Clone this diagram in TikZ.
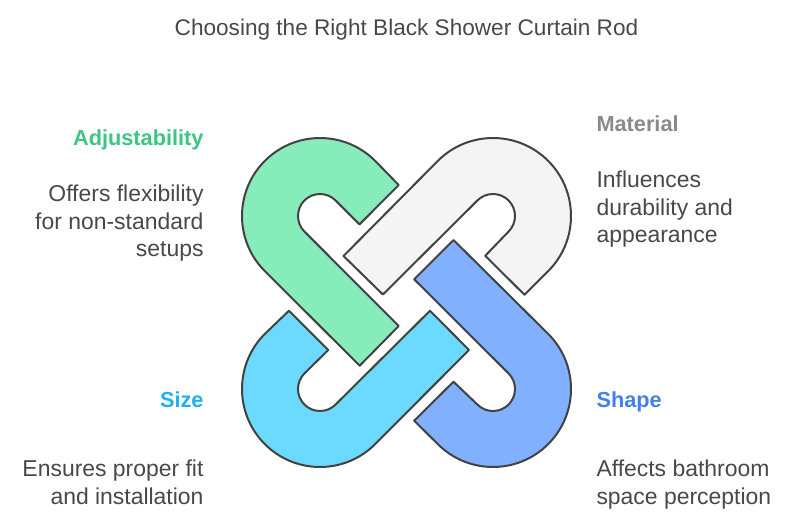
\documentclass[tikz,border=0pt]{standalone}
\usepackage{fontspec}
\setmainfont{Liberation Sans}
\tikzset{every picture/.style={line width=0.75pt}}
\tikzset{
  linkshape/.style={color={rgb, 255:red, 66; green, 66; blue, 66 }, draw opacity=1, line width=1.5pt, line join=round},
  headtext/.style={inner sep=0pt, font=\fontsize{16.3}{20}\selectfont\bfseries},
  bodytext/.style={inner sep=0pt, text={rgb, 255:red, 72; green, 72; blue, 72 }, font=\fontsize{17.2}{20.8}\selectfont}
}
\begin{document}
\begin{tikzpicture}[x=0.75pt,y=0.75pt,yscale=-1,xscale=1]
\useasboundingbox (0,0) rectangle (800,524);

%Shape: Green link
\draw  [linkshape, fill={rgb, 255:red, 134; green, 237; blue, 186 }  ,fill opacity=1 ] (375.15,160.85) .. controls (344.69,130.39) and (295.31,130.39) .. (264.85,160.85) .. controls (234.39,191.31) and (234.39,240.69) .. (264.85,271.15) -- (359.7,365.7) -- (398.7,326) -- (304.44,231.56) .. controls (295.85,222.97) and (295.85,209.03) .. (304.44,200.44) .. controls (313.03,191.85) and (326.97,191.85) .. (335.56,200.44) -- (359.5,224.4) -- (398.7,185) -- cycle ;
%Shape: Grey link
\draw  [linkshape, fill={rgb, 255:red, 244; green, 244; blue, 244 }  ,fill opacity=1 ] (437.85,160.85) .. controls (468.31,130.39) and (517.69,130.39) .. (548.15,160.85) .. controls (578.61,191.31) and (578.61,240.69) .. (548.15,271.15) -- (524.5,294.8) -- (485.2,255.8) -- (508.56,231.56) .. controls (517.15,222.97) and (517.15,209.03) .. (508.56,200.44) .. controls (499.97,191.85) and (486.03,191.85) .. (477.44,200.44) -- (382.9,294.5) -- (343.5,256) -- cycle ;
%Shape: Blue link
\draw  [linkshape, fill={rgb, 255:red, 128; green, 176; blue, 255 }  ,fill opacity=1 ] (453.5,240) -- (548.15,333.85) .. controls (578.61,364.31) and (578.61,413.69) .. (548.15,444.15) .. controls (517.69,474.61) and (468.31,474.61) .. (437.85,444.15) -- (414.2,420.7) -- (453.5,381.7) -- (477.44,404.56) .. controls (486.03,413.15) and (499.97,413.15) .. (508.56,404.56) .. controls (517.15,395.97) and (517.15,382.03) .. (508.56,373.44) -- (414.2,279.3) -- cycle ;
%Shape: Cyan link
\draw  [linkshape, fill={rgb, 255:red, 108; green, 217; blue, 255 }  ,fill opacity=1 ] (289,310.7) -- (264.85,333.85) .. controls (234.39,364.31) and (234.39,413.69) .. (264.85,444.15) .. controls (295.31,474.61) and (344.69,474.61) .. (375.15,444.15) -- (469,350) -- (430,310.7) -- (335.56,404.56) .. controls (326.97,413.15) and (313.03,413.15) .. (304.44,404.56) .. controls (295.85,395.97) and (295.85,382.03) .. (304.44,373.44) -- (328.3,350) -- cycle ;

% Text Node
\draw (406.5,35.5) node (titleText) [anchor=base, inner sep=0pt, text={rgb, 255:red, 72; green, 72; blue, 72 }, font=\fontsize{16.95}{20}\selectfont] {Choosing the Right Black Shower Curtain Rod};
% Text Node
\draw (204,145.7) node (adjustHead) [anchor=base east, headtext, text={rgb, 255:red, 60; green, 197; blue, 131 }] {Adjustability};
% Text Node
\draw (204,257) node (adjustBody) [anchor=base east, bodytext, align=right] {Offers flexibility\\for non-standard\\setups};
% Text Node
\draw (596,131.7) node (materialHead) [anchor=base west, headtext, text={rgb, 255:red, 138; green, 138; blue, 138 }] {Material};
% Text Node
\draw (596,243) node (materialBody) [anchor=base west, bodytext, align=left] {Influences\\durability and\\appearance};
% Text Node
\draw (204,407.7) node (sizeHead) [anchor=base east, headtext, text={rgb, 255:red, 29; green, 177; blue, 240 }] {Size};
% Text Node
\draw (204,504.4) node (sizeBody) [anchor=base east, bodytext, align=right] {Ensures proper fit\\and installation};
% Text Node
\draw (596,407.7) node (shapeHead) [anchor=base west, headtext, text={rgb, 255:red, 69; green, 128; blue, 230 }] {Shape};
% Text Node
\draw (596,504.4) node (shapeBody) [anchor=base west, bodytext, align=left] {Affects bathroom\\space perception};

\end{tikzpicture}
\end{document}
